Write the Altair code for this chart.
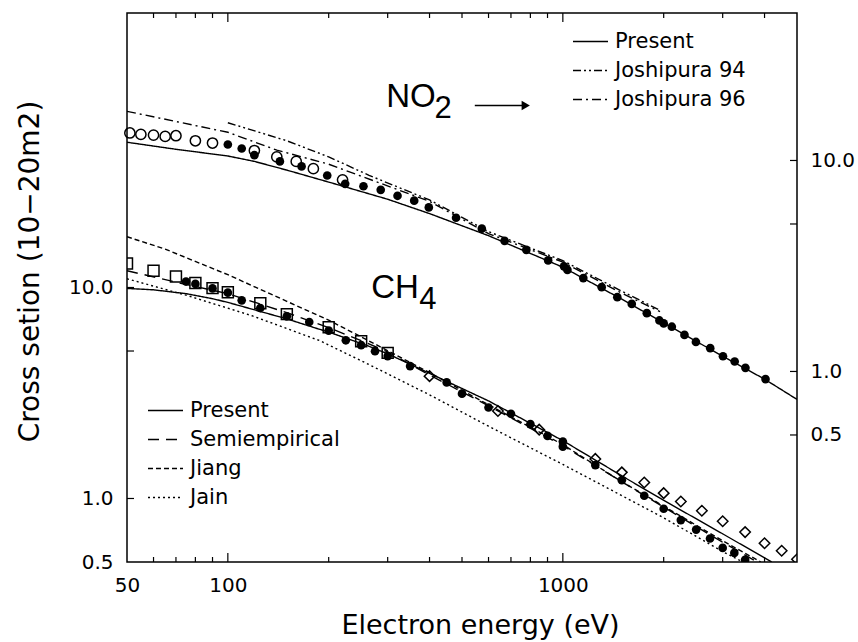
import altair as alt
import pandas as pd

FONT = "DejaVu Sans"
BIGFONT = "Liberation Sans"

# ---------------- CH4 (left axis) ----------------
ch4_sq_E = [50, 60, 70, 80, 90, 100, 125, 150, 200, 250, 300]
ch4_sq_v = [13.0, 12.0, 11.27, 10.5, 9.93, 9.5, 8.43, 7.48, 6.48, 5.56, 4.9]

ch4_fill_E = [75, 80, 90, 100, 110, 125, 150, 175, 200, 225, 250, 275, 300, 350, 450, 500, 600,
              700, 800, 900, 1000, 1000, 1250, 1500, 1750, 2000, 2250, 2500, 2750, 3000, 3250, 3500]
ch4_fill_v = [10.67, 10.4, 9.9, 9.45, 8.69, 7.99, 7.3, 6.86, 6.25, 5.62, 5.33, 4.99, 4.73, 4.24, 3.55,
              3.14, 2.7, 2.52, 2.25, 1.98, 1.86, 1.76, 1.44, 1.22, 1.03, 0.894, 0.79, 0.712, 0.646,
              0.583, 0.552, 0.512]

ch4_dia_E = [400, 640, 850, 1250, 1500, 1750, 2000, 2250, 2600, 3000, 3500, 4000, 4500, 5000]
ch4_dia_v = [3.8, 2.6, 2.12, 1.54, 1.33, 1.19, 1.06, 0.968, 0.875, 0.78, 0.693, 0.614, 0.565, 0.515]

ch4_present_E = [50, 60, 75, 90, 100, 150, 187, 200, 261, 300, 400, 600, 1000, 1500, 2000, 3000, 4200]
ch4_present_v = [9.9, 9.75, 9.35, 8.85, 8.5, 7.1, 6.35, 6.15, 5.3, 4.85, 3.92, 2.9, 1.88, 1.28,
                 0.98, 0.68, 0.5]

ch4_semi_E = [50, 55, 70, 100, 150, 200, 250, 300, 400, 600, 1000, 1500, 2000, 3000, 3800]
ch4_semi_v = [12.0, 11.6, 10.6, 9.35, 7.6, 6.45, 5.6, 4.95, 3.85, 2.75, 1.78, 1.2, 0.91, 0.62, 0.5]

ch4_jiang_E = [50, 65, 100, 150, 200, 260, 400, 600, 1000, 1500, 2000, 3000, 3900]
ch4_jiang_v = [17.4, 15.2, 11.5, 8.6, 7.0, 5.65, 3.95, 2.78, 1.8, 1.2, 0.92, 0.63, 0.5]

ch4_jain_E = [50, 75, 118, 188, 261, 400, 600, 1000, 1360, 2000, 3000, 3450]
ch4_jain_v = [11.0, 9.2, 7.35, 5.6, 4.35, 3.1, 2.2, 1.45, 1.12, 0.81, 0.56, 0.5]

ch4_names = ["Present", "Semiempirical", "Jiang", "Jain"]

# ---------------- NO2 (right axis) ----------------
no2_open_E = [51, 55, 60, 65, 70, 80, 90, 120, 140, 160, 180, 220]
no2_open_v = [13.5, 13.3, 13.2, 13.0, 13.1, 12.4, 12.1, 11.15, 10.4, 9.9, 9.14, 8.1]

no2_fill_E = [100, 110, 120, 143, 166, 198, 224, 254, 286, 321, 360, 398, 480, 573, 670, 778, 904,
              1008, 1032, 1151, 1306, 1454, 1606, 1781, 1942, 2000, 2115, 2307, 2496, 2754, 3006,
              3258, 3508, 4027]
no2_fill_v = [11.9, 11.4, 10.6, 9.9, 9.37, 8.49, 7.75, 7.55, 7.26, 6.8, 6.45, 5.99, 5.35, 4.75,
              4.16, 3.77, 3.36, 3.15, 3.03, 2.77, 2.51, 2.25, 2.09, 1.89, 1.745, 1.69, 1.63, 1.49,
              1.38, 1.29, 1.18, 1.115, 1.04, 0.92]

no2_present_E = [50, 70, 100, 120, 150, 200, 300, 400, 600, 1000, 1500, 2000, 3000, 4000, 5000]
no2_present_v = [12.2, 11.3, 10.5, 9.9, 9.0, 7.9, 6.55, 5.6, 4.4, 3.12, 2.2, 1.7, 1.18, 0.92, 0.737]

no2_j94_E = [100, 150, 200, 264, 400, 600, 1000, 1500, 1950]
no2_j94_v = [15.1, 12.4, 10.4, 8.5, 6.5, 4.6, 3.35, 2.4, 1.95]

no2_j96_E = [50, 70, 100, 140, 200, 400, 600, 1000, 1500, 1950]
no2_j96_v = [17.1, 15.3, 13.6, 11.2, 9.6, 6.4, 4.5, 3.3, 2.35, 1.92]

no2_names = ["Present", "Joshipura 94", "Joshipura 96"]

# axis ticks
x_minor = [60, 70, 80, 90, 200, 300, 400, 500, 600, 700, 800, 900, 2000, 3000, 4000]
x_major = [100, 1000]
x_labels = [50, 100, 1000]
yl_ticks = [1, 5, 10]
yl_labels = [0.5, 1, 10]
yr_ticks = [0.5, 1, 5, 10]
yr_labels = [0.5, 1, 10]

# annotations (data coordinates)
no2_label = {"E": [297], "v": [20.1], "t": ["NO"]}
no2_sub = {"E": [414], "v": [17.6], "t": ["2"]}
ch4_label = {"E": [268], "v": [10.0], "t": ["CH"]}
ch4_sub = {"E": [373], "v": [8.77], "t": ["4"]}
arrow = {"E": [546], "E2": [775], "v": [18.2]}
arrow_head = {"E": [775], "v": [18.2]}

# ---------------- build ----------------
W, H = 670, 549
xs = alt.Scale(type="log", domain=[50, 5000], nice=False)
yl = alt.Scale(type="log", domain=[0.5, 200], nice=False)
yr = alt.Scale(type="log", domain=[0.125, 50], nice=False)


def frame(E, v, name=None):
    d = pd.DataFrame({"E": E, "v": v})
    if name is not None:
        d["series"] = name
    return d


ch4_lines = pd.concat([
    frame(ch4_present_E, ch4_present_v, "Present"),
    frame(ch4_semi_E, ch4_semi_v, "Semiempirical"),
    frame(ch4_jiang_E, ch4_jiang_v, "Jiang"),
    frame(ch4_jain_E, ch4_jain_v, "Jain"),
])
no2_lines = pd.concat([
    frame(no2_present_E, no2_present_v, "Present"),
    frame(no2_j94_E, no2_j94_v, "Joshipura 94"),
    frame(no2_j96_E, no2_j96_v, "Joshipura 96"),
])

x_axis = alt.Axis(values=x_labels, format="d", ticks=False, domain=False, grid=False,
                  labelFontSize=20, labelFont=FONT, labelPadding=13, labelColor="black",
                  labelFlush=False,
                  title="Electron energy (eV)", titleFontSize=27, titleFont=FONT,
                  titleFontWeight="normal", titleColor="black",
                  titleX=353, titleY=63, titleBaseline="middle", titleAlign="center")
yl_axis = alt.Axis(values=yl_labels, labelExpr="format(datum.value, '.1f')", ticks=False,
                   domain=False, grid=False, labelFontSize=20, labelFont=FONT, labelPadding=14,
                   labelColor="black", labelFlush=False,
                   title="Cross setion (10−20m2)", titleFontSize=28,
                   titleFont=FONT, titleFontWeight="normal", titleColor="black",
                   titleX=-97, titleY=258, titleBaseline="middle", titleAlign="center",
                   titleAngle=270)
yr_axis = alt.Axis(values=yr_labels, labelExpr="format(datum.value, '.1f')", ticks=False,
                   domain=False, grid=False, orient="right", labelFontSize=20, labelFont=FONT,
                   labelPadding=13, labelColor="black", labelFlush=False, title=None)

X = alt.X("E:Q", scale=xs, axis=x_axis)
YL = alt.Y("v:Q", scale=yl, axis=yl_axis)
YR = alt.Y("v:Q", scale=yr, axis=yr_axis)

leg_common = dict(title=None, orient="none", symbolType="stroke", symbolSize=1225,
                  symbolStrokeWidth=1.5, symbolStrokeColor="black", labelFontSize=21,
                  labelFont=FONT, labelColor="black", rowPadding=0, labelOffset=6)
ch4_leg = alt.Legend(legendX=20, legendY=379, **leg_common)
no2_leg = alt.Legend(legendX=445, legendY=10, **leg_common)

ch4_line_layer = alt.Chart(ch4_lines).mark_line(color="black", strokeWidth=1.4, clip=True).encode(
    x=X, y=YL,
    strokeDash=alt.StrokeDash("series:N", sort=ch4_names,
                              scale=alt.Scale(domain=ch4_names,
                                              range=[[1, 0], [11, 7], [5, 3], [2, 3]]),
                              legend=ch4_leg),
    detail="series:N",
)
ch4_sq = alt.Chart(frame(ch4_sq_E, ch4_sq_v)).mark_point(
    shape="square", filled=False, color="black", size=120, strokeWidth=1.5, opacity=1, clip=True
).encode(x=X, y=YL)
ch4_fill = alt.Chart(frame(ch4_fill_E, ch4_fill_v)).mark_point(
    shape="circle", filled=True, color="black", size=75, opacity=1, clip=True
).encode(x=X, y=YL)
ch4_dia = alt.Chart(frame(ch4_dia_E, ch4_dia_v)).mark_point(
    shape="diamond", filled=False, color="black", size=110, strokeWidth=1.5, opacity=1, clip=True
).encode(x=X, y=YL)
ch4_txt = alt.Chart(pd.DataFrame(ch4_label)).mark_text(
    align="left", baseline="middle", fontSize=33, font=BIGFONT, color="black"
).encode(x=X, y=YL, text="t:N")
ch4_txt2 = alt.Chart(pd.DataFrame(ch4_sub)).mark_text(
    align="left", baseline="middle", fontSize=31, font=BIGFONT, color="black"
).encode(x=X, y=YL, text="t:N")

xt_minor = pd.DataFrame({"E": x_minor})
xt_major = pd.DataFrame({"E": x_major})
tick_bot_minor = alt.Chart(xt_minor).mark_rule(color="black", strokeWidth=1.2).encode(
    x=X, y=alt.value(H), y2=alt.value(H - 5))
tick_bot_major = alt.Chart(xt_major).mark_rule(color="black", strokeWidth=1.2).encode(
    x=X, y=alt.value(H), y2=alt.value(H - 9))
tick_top_minor = alt.Chart(xt_minor).mark_rule(color="black", strokeWidth=1.2).encode(
    x=X, y=alt.value(0), y2=alt.value(5))
tick_top_major = alt.Chart(xt_major).mark_rule(color="black", strokeWidth=1.2).encode(
    x=X, y=alt.value(0), y2=alt.value(9))
tick_left = alt.Chart(pd.DataFrame({"v": yl_ticks})).mark_rule(color="black", strokeWidth=1.2).encode(
    y=YL, x=alt.value(0), x2=alt.value(7))

ch4 = alt.layer(ch4_line_layer, ch4_sq, ch4_fill, ch4_dia, ch4_txt, ch4_txt2,
                tick_bot_minor, tick_bot_major, tick_top_minor, tick_top_major, tick_left)

no2_line_layer = alt.Chart(no2_lines).mark_line(color="black", strokeWidth=1.4, clip=True).encode(
    x=X, y=YR,
    strokeDash=alt.StrokeDash("series:N", sort=no2_names,
                              scale=alt.Scale(domain=no2_names,
                                              range=[[1, 0], [8, 3, 2, 3, 2, 3], [9, 4, 2, 4]]),
                              legend=no2_leg),
    detail="series:N",
)
no2_open = alt.Chart(frame(no2_open_E, no2_open_v)).mark_point(
    shape="circle", filled=False, color="black", size=105, strokeWidth=1.5, opacity=1
).encode(x=X, y=YR)
no2_fill = alt.Chart(frame(no2_fill_E, no2_fill_v)).mark_point(
    shape="circle", filled=True, color="black", size=75, opacity=1
).encode(x=X, y=YR)
no2_txt = alt.Chart(pd.DataFrame(no2_label)).mark_text(
    align="left", baseline="middle", fontSize=33, font=BIGFONT, color="black"
).encode(x=X, y=YR, text="t:N")
no2_txt2 = alt.Chart(pd.DataFrame(no2_sub)).mark_text(
    align="left", baseline="middle", fontSize=31, font=BIGFONT, color="black"
).encode(x=X, y=YR, text="t:N")
arrow_line = alt.Chart(pd.DataFrame(arrow)).mark_rule(color="black", strokeWidth=1.5).encode(
    x=X, x2="E2:Q", y=YR)
arrow_tip = alt.Chart(pd.DataFrame(arrow_head)).mark_point(
    shape="triangle-right", filled=True, color="black", size=90, opacity=1
).encode(x=X, y=YR)
tick_right = alt.Chart(pd.DataFrame({"v": yr_ticks})).mark_rule(color="black", strokeWidth=1.2).encode(
    y=YR, x=alt.value(W - 7), x2=alt.value(W))

no2 = alt.layer(no2_line_layer, no2_open, no2_fill, no2_txt, no2_txt2, arrow_line, arrow_tip,
                tick_right)

chart = alt.layer(ch4, no2).resolve_scale(
    y="independent", strokeDash="independent"
).resolve_legend(strokeDash="independent").properties(
    width=W, height=H, autosize="none",
    padding={"left": 127, "top": 13, "right": 61, "bottom": 80},
    background="white",
).configure(font=FONT, view=alt.ViewConfig(stroke="black", strokeWidth=1.5))

chart.save("out.html", embed_options={"renderer": "svg", "actions": False})
